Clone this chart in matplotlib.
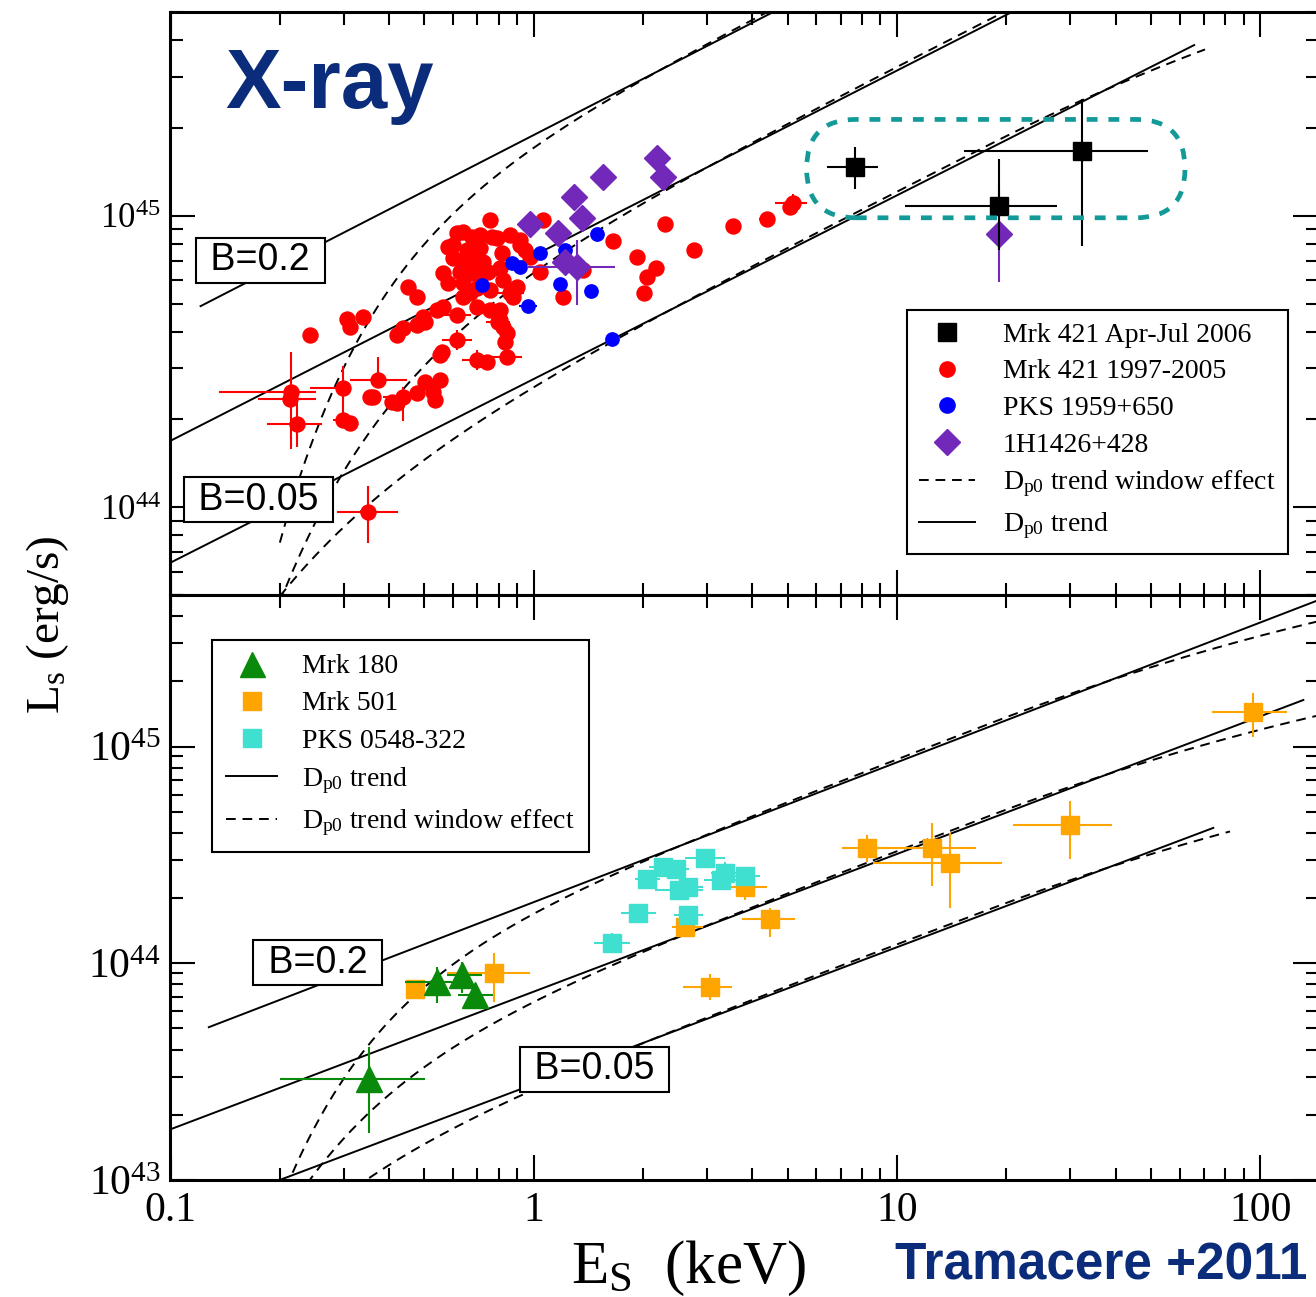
import numpy as np
import matplotlib
matplotlib.use('Agg')
import matplotlib.pyplot as plt
from matplotlib.lines import Line2D
from matplotlib.patches import FancyBboxPatch
from matplotlib.transforms import IdentityTransform
from matplotlib.ticker import FuncFormatter, NullFormatter, LogLocator

plt.rcParams['font.family'] = ['Liberation Serif', 'DejaVu Serif']
plt.rcParams['mathtext.fontset'] = 'custom'
plt.rcParams['mathtext.rm'] = 'Liberation Serif'
plt.rcParams['mathtext.it'] = 'Liberation Serif:italic'
plt.rcParams['mathtext.bf'] = 'Liberation Serif:bold'

RED = '#ff0000'
BLUE = '#0000ff'
PURPLE = '#7228b8'
GREEN = '#0a8a0a'
ORANGE = '#ffa500'
TURQ = '#40e0d0'
TEAL = '#139a98'
NAVY = '#0a2c7a'

# ---------------- upper panel data (E_s in keV, L_s in erg/s) ----------------
# Mrk 421 Apr-Jul 2006
mrk421_06_E = [7.67, 19.1, 32.4]
mrk421_06_L = [1.47e45, 1.08e45, 1.667e45]
mrk421_06_E_lo = [6.43, 10.5, 15.3]
mrk421_06_E_hi = [8.89, 27.5, 49.2]
mrk421_06_L_lo = [1.235e45, 7.6e44, 7.87e44]
mrk421_06_L_hi = [1.717e45, 1.56e45, 2.51e45]

# Mrk 421 1997-2005, points drawn without error bars
mrk421_E = [0.242, 0.306, 0.312, 0.338, 0.312, 0.362, 0.354, 0.407, 0.420, 0.476,
            0.502, 0.529, 0.552, 0.535, 0.552, 0.558, 0.742, 0.420, 0.438, 0.476,
            0.502, 0.541, 0.564, 0.497, 0.452, 0.476, 0.564, 0.582, 0.640, 0.668,
            0.614, 0.640, 0.675, 0.711, 0.766, 0.601, 0.654, 0.711, 0.601, 0.640,
            0.682, 0.727, 0.750, 0.627, 0.675, 0.711, 0.640, 0.697, 0.816, 0.808,
            0.825, 0.861, 0.917, 0.946, 1.063, 0.758, 0.977, 0.898, 0.879, 1.041,
            1.207, 0.758, 0.808, 0.697, 0.825, 0.843, 0.808, 0.758, 1.657, 1.921,
            2.168, 2.048, 2.013, 2.30, 2.764, 3.545, 5.078, 1.37, 0.834, 0.917,
            0.582, 0.675, 0.791]
mrk421_L = [3.90e44, 4.42e44, 4.16e44, 4.48e44, 1.95e44, 2.39e44, 2.38e44, 2.30e44, 2.27e44, 2.46e44,
            2.70e44, 2.49e44, 2.73e44, 2.33e44, 3.33e44, 3.42e44, 3.16e44, 3.90e44, 4.11e44, 4.22e44,
            4.33e44, 4.75e44, 4.87e44, 4.50e44, 5.71e44, 5.27e44, 6.34e44, 5.86e44, 5.27e44, 5.42e44,
            8.70e44, 8.81e44, 8.47e44, 8.59e44, 8.47e44, 7.93e44, 7.63e44, 7.73e44, 7.14e44, 7.05e44,
            7.14e44, 6.95e44, 6.43e44, 6.43e44, 6.34e44, 6.18e44, 5.86e44, 5.64e44, 7.43e44, 6.60e44,
            6.02e44, 8.59e44, 8.25e44, 7.63e44, 9.67e44, 9.67e44, 7.23e44, 5.71e44, 5.27e44, 6.43e44,
            5.27e44, 4.75e44, 4.75e44, 4.87e44, 4.16e44, 3.95e44, 4.39e44, 5.56e44, 8.21e44, 7.23e44,
            6.63e44, 6.18e44, 5.42e44, 9.37e44, 7.63e44, 9.22e44, 1.074e45, 6.51e44, 3.70e44, 7.93e44,
            7.83e44, 6.78e44, 8.36e44]

# Mrk 421 1997-2005, points with error bars
mrk421e_E = [0.2143, 0.2131, 0.2225, 0.299, 0.299, 0.3735, 0.4375, 0.697, 0.843, 0.614,
             0.614, 0.861, 0.799, 4.397, 5.186, 0.349]
mrk421e_L = [2.49e44, 2.35e44, 1.93e44, 2.56e44, 1.99e44, 2.73e44, 2.39e44, 3.20e44, 3.27e44, 3.75e44,
             4.56e44, 5.42e44, 4.33e44, 9.72e44, 1.103e45, 9.65e43]
mrk421e_E_lo = [0.1363, 0.174, 0.184, 0.242, 0.280, 0.312, 0.3847, 0.634, 0.767, 0.558,
                0.56, 0.79, 0.74, 4.18, 4.617, 0.287]
mrk421e_E_hi = [0.2511, 0.2511, 0.2608, 0.312, 0.322, 0.447, 0.4803, 0.766, 0.927, 0.675,
                0.67, 0.94, 0.86, 4.62, 5.646, 0.424]
mrk421e_L_lo = [1.59e44, 2.35e44, 1.605e44, 1.99e44, 1.99e44, 2.59e44, 1.97e44, 2.95e44, 3.27e44, 3.45e44,
                4.56e44, 5.1e44, 4.33e44, 9.72e44, 1.02e45, 7.52e43]
mrk421e_L_hi = [3.42e44, 2.35e44, 2.27e44, 3.06e44, 1.99e44, 3.28e44, 2.59e44, 3.45e44, 3.27e44, 4.05e44,
                4.56e44, 5.75e44, 4.33e44, 9.72e44, 1.19e45, 1.18e44]

# PKS 1959+650
pks1959_E = [0.722, 0.870, 0.917, 1.041, 1.22, 1.497, 1.181, 1.438, 0.966, 1.646]
pks1959_L = [5.785e44, 6.866e44, 6.683e44, 7.43e44, 7.63e44, 8.63e44, 5.82e44, 5.52e44, 4.91e44, 3.776e44]
pks1959_dE = [0, 0, 0, 0, 0, 0, 0, 0, 0.025, 0]   # dex

# 1H1426+428
h1426_E = [0.977, 1.291, 1.555, 1.361, 1.169, 2.182, 2.275, 1.22, 1.313, 19.1]
h1426_L = [9.34e44, 1.162e45, 1.361e45, 9.84e44, 8.74e44, 1.573e45, 1.361e45, 6.95e44, 6.68e44, 8.65e44]
h1426_E_lo = [0.977, 1.291, 1.555, 1.361, 1.169, 2.182, 2.275, 1.22, 0.9565, 19.1]
h1426_E_hi = [0.977, 1.291, 1.555, 1.361, 1.169, 2.182, 2.275, 1.22, 1.674, 19.1]
h1426_L_lo = [9.34e44, 1.162e45, 1.361e45, 9.84e44, 8.74e44, 1.573e45, 1.361e45, 6.95e44, 4.94e44, 5.94e44]
h1426_L_hi = [9.34e44, 1.162e45, 1.361e45, 9.84e44, 8.74e44, 1.573e45, 1.361e45, 6.95e44, 8.25e44, 1.26e45]

# ---------------- lower panel data ----------------
mrk180_E = [0.3526, 0.5428, 0.636, 0.689]
mrk180_L = [2.915e43, 8.23e43, 8.83e43, 7.14e43]
mrk180_E_lo = [0.2001, 0.442, 0.576, 0.620]
mrk180_E_hi = [0.502, 0.5945, 0.719, 0.771]
mrk180_L_lo = [1.653e43, 6.54e43, 7.27e43, 6.31e43]
mrk180_L_hi = [4.12e43, 9.65e43, 1.017e44, 8.0e43]

mrk501_E = [0.4713, 0.7775, 3.818, 2.61, 4.474, 3.059, 8.29, 12.47, 14.0, 29.97, 95.8]
mrk501_L = [7.59e43, 8.99e43, 2.257e44, 1.466e44, 1.597e44, 7.75e43, 3.394e44, 3.394e44,
            2.894e44, 4.35e44, 1.44e45]
mrk501_E_lo = [0.4713, 0.576, 3.471, 2.399, 3.739, 2.582, 7.05, 8.61, 8.61, 20.92, 73.6]
mrk501_E_hi = [0.4713, 0.977, 4.38, 2.931, 5.243, 3.523, 9.47, 16.51, 19.44, 39.0, 118.4]
mrk501_L_lo = [7.59e43, 6.65e43, 1.96e44, 1.37e44, 1.327e44, 6.77e43, 2.94e44, 2.28e44,
               1.794e44, 3.03e44, 1.111e45]
mrk501_L_hi = [7.59e43, 1.112e44, 2.42e44, 1.57e44, 1.794e44, 8.93e43, 3.91e44, 4.45e44,
               3.98e44, 5.63e44, 1.773e45]

pks0548_E = [1.64, 1.941, 2.055, 2.275, 2.465, 2.517, 2.666, 2.666, 2.963, 3.363, 3.273, 3.818]
pks0548_L = [1.245e44, 1.712e44, 2.44e44, 2.79e44, 2.716e44, 2.18e44, 2.257e44, 1.671e44,
             3.05e44, 2.60e44, 2.42e44, 2.53e44]
pks0548_dE = [0.05, 0.048, 0.035, 0.04, 0.035, 0.066, 0.04, 0.04, 0.055, 0.04, 0.045, 0.04]
pks0548_dL = [0.045, 0.03, 0.03, 0.03, 0.03, 0.03, 0.04, 0.04, 0.04, 0.05, 0.03, 0.03]

# ---------------- D_p0 trend lines: L = norm * E^slope ----------------
trend_top_norm = [1.892e45, 7.295e44, 2.754e44]      # at 1 keV
trend_top_slope = [0.64, 0.635, 0.63]
trend_top_Emin = [0.121, 0.08, 0.08]
trend_top_Emax = [300.0, 300.0, 65.8]
# window effect: dex drop at 0.2 keV and its e-folding width in dex
window_top_amp = [0.966, 0.76, 0.32]
window_top_w = [0.25, 0.30, 0.35]
window_top_Emax = [300.0, 300.0, 70.5]

trend_bot_norm = [1.914e44, 7.396e43, 2.767e43]
trend_bot_slope = [0.645, 0.635, 0.632]
trend_bot_Emin = [0.1275, 0.08, 0.08]
trend_bot_Emax = [300.0, 131.5, 74.3]
window_bot_amp = [0.953, 0.648, 0.344]
window_bot_w = [0.266, 0.30, 0.325]
window_bot_Emax = [300.0, 300.0, 82.6]
window_Emin = 0.2

# B labels (E, L) of the box centres
blabels_top = [('B=0.2', 0.1764, 7.05e44), ('B=0.05', 0.1747, 1.059e44)]
blabels_bot = [('B=0.2', 0.2547, 1.003e44), ('B=0.05', 1.47, 3.236e43)]

# rounded box around the 2006 Mrk 421 states
oval_E = [5.64, 62.1]
oval_L = [9.84e44, 2.14e45]


def window_factor(E, amp, w):
    low = -amp * np.exp(-(np.log10(E) - np.log10(window_Emin)) / w)
    high = 0.015 - 0.11 * np.clip((np.log10(E) - 1.25) / 0.9, 0, None) ** 2
    return 10 ** (low + high)


def draw_trends(ax, norms, slopes, emins, emaxs, amps, ws, wmaxs):
    for n, s, a, b, amp, w, wb in zip(norms, slopes, emins, emaxs, amps, ws, wmaxs):
        E = np.geomspace(a, b, 300)
        ax.plot(E, n * E ** s, color='black', lw=1.4, zorder=2)
        Ew = np.geomspace(window_Emin, wb, 600)
        ax.plot(Ew, n * Ew ** s * window_factor(Ew, amp, w), color='black',
                lw=1.4, ls=(0, (5, 3.5)), zorder=2)


def errpts(ax, E, L, Elo, Ehi, Llo, Lhi, color, marker, ms, ecolor=None, z=3):
    E, L = np.asarray(E), np.asarray(L)
    xerr = [E - np.asarray(Elo), np.asarray(Ehi) - E]
    yerr = [L - np.asarray(Llo), np.asarray(Lhi) - L]
    ax.errorbar(E, L, xerr=xerr, yerr=yerr, fmt=marker, color=color, ms=ms,
                mec=color, ecolor=ecolor or color, elinewidth=1.5, capsize=0,
                zorder=z, ls='none')


def decade_label(v, pos):
    return r'$\mathregular{10^{%d}}$' % int(round(np.log10(v)))


fig = plt.figure(figsize=(13.16, 12.97), dpi=100)
left, width = 170.5 / 1316, 1147.5 / 1316
ax1 = fig.add_axes([left, 1 - 595 / 1297, width, 583 / 1297])
ax2 = fig.add_axes([left, 1 - 1180 / 1297, width, 585 / 1297])

for ax in (ax1, ax2):
    ax.set_xscale('log')
    ax.set_yscale('log')
    ax.set_xlim(0.1, 144.3)
    ax.tick_params(which='both', direction='in', top=True, right=True, width=1.5)
    ax.tick_params(which='major', length=18)
    ax.tick_params(which='minor', length=9)
    ax.yaxis.set_minor_locator(LogLocator(base=10, subs=np.arange(2, 10)))
    ax.xaxis.set_minor_locator(LogLocator(base=10, subs=np.arange(2, 10)))
    ax.yaxis.set_major_formatter(FuncFormatter(decade_label))
    ax.yaxis.set_minor_formatter(NullFormatter())
    ax.xaxis.set_minor_formatter(NullFormatter())
    for sp in ax.spines.values():
        sp.set_linewidth(2.2)

ax1.set_ylim(5e43, 5e45)
ax2.set_ylim(1e43, 5e45)
ax1.tick_params(axis='x', labelbottom=False)
ax1.tick_params(axis='y', labelsize=25, pad=7)
ax2.tick_params(axis='y', labelsize=30, pad=7)
ax2.tick_params(axis='x', labelsize=30, pad=8)
ax2.xaxis.set_major_formatter(FuncFormatter(lambda v, p: '%g' % v))

# ---- upper panel ----
draw_trends(ax1, trend_top_norm, trend_top_slope, trend_top_Emin, trend_top_Emax,
            window_top_amp, window_top_w, window_top_Emax)
ax1.plot(mrk421_E, mrk421_L, 'o', color=RED, ms=10.8, zorder=3)
errpts(ax1, mrk421e_E, mrk421e_L, mrk421e_E_lo, mrk421e_E_hi, mrk421e_L_lo, mrk421e_L_hi,
       RED, 'o', 10.8)
E = np.asarray(pks1959_E)
dE = np.asarray(pks1959_dE)
ax1.errorbar(E, pks1959_L, xerr=[E - E / 10 ** dE, E * 10 ** dE - E], fmt='o', color=BLUE,
             ms=9.6, elinewidth=1.5, capsize=0, zorder=3)
errpts(ax1, h1426_E, h1426_L, h1426_E_lo, h1426_E_hi, h1426_L_lo, h1426_L_hi,
       PURPLE, 'D', 13.5, z=3.2)
errpts(ax1, mrk421_06_E, mrk421_06_L, mrk421_06_E_lo, mrk421_06_E_hi, mrk421_06_L_lo,
       mrk421_06_L_hi, 'black', 's', 13, z=3.4)

ax1.text(0.0476, 0.835, 'X-ray', transform=ax1.transAxes, fontsize=60,
         fontweight='bold', family=['Liberation Sans', 'DejaVu Sans'], color=NAVY,
         va='baseline', ha='left')

# ---- lower panel ----
draw_trends(ax2, trend_bot_norm, trend_bot_slope, trend_bot_Emin, trend_bot_Emax,
            window_bot_amp, window_bot_w, window_bot_Emax)
errpts(ax2, mrk501_E, mrk501_L, mrk501_E_lo, mrk501_E_hi, mrk501_L_lo, mrk501_L_hi,
       ORANGE, 's', 13)
E = np.asarray(pks0548_E)
L = np.asarray(pks0548_L)
dE = np.asarray(pks0548_dE)
dL = np.asarray(pks0548_dL)
ax2.errorbar(E, L, xerr=[E - E / 10 ** dE, E * 10 ** dE - E],
             yerr=[L - L / 10 ** dL, L * 10 ** dL - L], fmt='s', color=TURQ, ms=13,
             elinewidth=1.5, capsize=0, zorder=3.1)
errpts(ax2, mrk180_E, mrk180_L, mrk180_E_lo, mrk180_E_hi, mrk180_L_lo, mrk180_L_hi,
       GREEN, '^', 19, z=3.2)

# B labels
for ax, labels in ((ax1, blabels_top), (ax2, blabels_bot)):
    for txt, e, l in labels:
        ax.text(e, l, ' %s ' % txt, fontsize=27, family=['Liberation Sans', 'DejaVu Sans'],
                ha='center', va='center', zorder=5,
                bbox=dict(boxstyle='square,pad=0.12', fc='white', ec='black', lw=1.5))

# legends
solid_h = Line2D([], [], color='black', lw=1.4)
dash_h = Line2D([], [], color='black', lw=1.4, ls=(0, (5, 3.5)))
top_handles = [
    Line2D([], [], marker='s', color='black', ls='none', ms=13),
    Line2D([], [], marker='o', color=RED, ls='none', ms=11),
    Line2D([], [], marker='o', color=BLUE, ls='none', ms=11),
    Line2D([], [], marker='D', color=PURPLE, ls='none', ms=13.5),
    dash_h, solid_h]
top_labels = ['Mrk 421 Apr-Jul 2006', 'Mrk 421 1997-2005', 'PKS 1959+650', '1H1426+428',
              r'D$_{\rm p0}$ trend window effect', r'D$_{\rm p0}$ trend']
leg1 = ax1.legend(top_handles, top_labels, loc='upper left', bbox_to_anchor=(0.6418, 0.4889),
                  borderaxespad=0, fancybox=False, edgecolor='black', framealpha=1,
                  fontsize=20, handlelength=2.0, handletextpad=1.0, borderpad=0.45,
                  labelspacing=0.4, numpoints=1)
leg1.get_frame().set_linewidth(1.5)
leg1.set_zorder(6)

bot_handles = [
    Line2D([], [], marker='^', color=GREEN, ls='none', ms=18),
    Line2D([], [], marker='s', color=ORANGE, ls='none', ms=13),
    Line2D([], [], marker='s', color=TURQ, ls='none', ms=13),
    solid_h, dash_h]
bot_labels = ['Mrk 180', 'Mrk 501', 'PKS 0548-322', r'D$_{\rm p0}$ trend',
              r'D$_{\rm p0}$ trend window effect']
leg2 = ax2.legend(bot_handles, bot_labels, loc='upper left', bbox_to_anchor=(0.0362, 0.9231),
                  borderaxespad=0, fancybox=False, edgecolor='black', framealpha=1,
                  fontsize=20, handlelength=1.85, handletextpad=0.9, borderpad=0.5,
                  labelspacing=0.42, numpoints=1)
leg2.get_frame().set_linewidth(1.5)
leg2.set_zorder(6)

# dashed rounded box, built in pixel space so the ends stay round
(x0, y0), (x1, y1) = ax1.transData.transform([(oval_E[0], oval_L[0]), (oval_E[1], oval_L[1])])
h = y1 - y0
oval = FancyBboxPatch((x0, y0), x1 - x0, h, boxstyle='round,pad=0,rounding_size=%.1f' % (h / 2),
                      transform=IdentityTransform(), fill=False, ec=TEAL, lw=3.4,
                      ls=(0, (2.3, 2.3)), zorder=4)
fig.patches.append(oval)
oval.set_figure(fig)

fig.text(0.036, 1 - 625 / 1297, r'L$_{\rm s}$ (erg/s)', rotation=90, fontsize=34,
         ha='center', va='center')
fig.text(689 / 1316, 1 - 1268 / 1297, r'E$_{\rm S}$  (keV)', fontsize=44,
         ha='center', va='center')
fig.text(895 / 1316, 1 - 1280 / 1297, 'Tramacere +2011', fontsize=37, fontweight='bold',
         family=['Liberation Sans Narrow', 'Liberation Sans', 'DejaVu Sans'], color=NAVY,
         ha='left', va='baseline')

fig.savefig('out.png', dpi=100)
